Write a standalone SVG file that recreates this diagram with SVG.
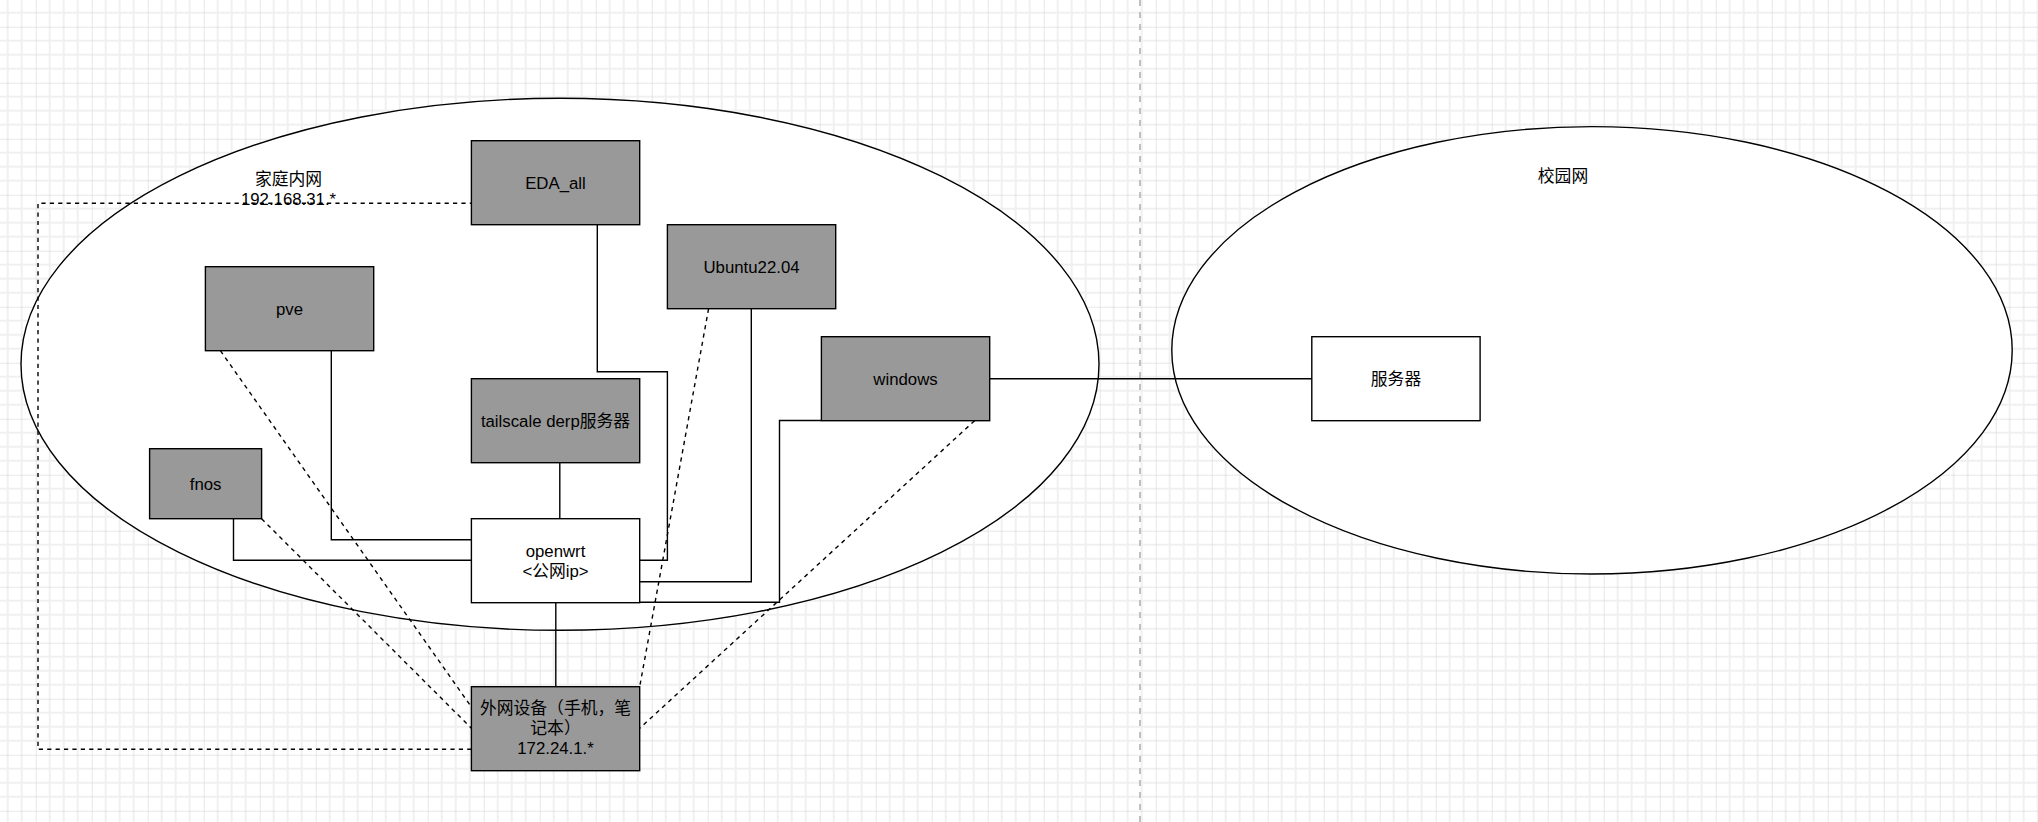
<svg xmlns="http://www.w3.org/2000/svg" width="2038" height="822" viewBox="0 0 2038 822">
  <defs>
    <pattern id="grid" patternUnits="userSpaceOnUse" x="35.7" y="26.7" width="56" height="56">
      <path d="M14 0V56M28 0V56M42 0V56M0 14H56M0 28H56M0 42H56" stroke="#f0f0f0" stroke-width="2" fill="none"/>
      <path d="M0 0V56M0 0H56" stroke="#d0d0d0" stroke-width="1" fill="none"/>
    </pattern>
    <style>
      .net { fill: #ffffff; stroke: #000000; stroke-width: 1.4; }
      .box { fill: #999999; stroke: #000000; stroke-width: 1.4; }
      .wbox { fill: #ffffff; stroke: #000000; stroke-width: 1.4; }
      .edge { fill: none; stroke: #000000; stroke-width: 1.4; }
      .dash { fill: none; stroke: #000000; stroke-width: 1.4; stroke-dasharray: 4.2 4.2; }
      .sep { fill: none; stroke: #c0c0c0; stroke-width: 2; stroke-dasharray: 6 6; }
      text { font-family: "Liberation Sans", Arial, "Noto Sans CJK SC", sans-serif; font-size: 16.8px; fill: #000000; text-anchor: middle; }
    </style>
  </defs>
  <rect x="0" y="0" width="2038" height="822" fill="#ffffff"/>
  <rect x="0" y="0" width="2038" height="822" fill="url(#grid)"/>
  <line class="sep" x1="1140" y1="0" x2="1140" y2="822"/>

  <g id="home-net">
    <ellipse class="net" cx="560" cy="364.3" rx="539" ry="266"/>
    <text x="288.5" y="185.3">家庭内网</text>
    <text x="288.5" y="205.3">192.168.31.*</text>
  </g>
  <g id="campus-net">
    <ellipse class="net" cx="1592" cy="350.3" rx="420.2" ry="223.7"/>
    <text x="1563" y="182">校园网</text>
  </g>

  <g id="connectors">
    <path class="edge" d="M597.3 224.7V371.7H667.4V560.3H639.7"/>
    <path class="edge" d="M751.3 308.7V581.7H639.7"/>
    <path class="edge" d="M821.4 420.5H779.5V602.3H639.7"/>
    <path class="edge" d="M989.7 378.7H1311.8"/>
    <path class="edge" d="M331.3 350.7V539.7H471.4"/>
    <path class="edge" d="M233.5 518.7V560.3H471.4"/>
    <path class="edge" d="M559.8 462.7V518.7"/>
    <path class="edge" d="M555.8 602.7V686.7"/>
    <path class="dash" d="M471.4 749.3H38V203.3H471.4"/>
    <path class="dash" d="M220.4 350.7L471.4 707"/>
    <path class="dash" d="M261.6 518.7L471.4 728.3"/>
    <path class="dash" d="M708.6 308.7L639.7 686.7"/>
    <path class="dash" d="M974.6 420.7L639.7 728.3"/>
  </g>

  <g id="eda-all">
    <rect class="box" x="471.4" y="140.7" width="168.3" height="84"/>
    <text x="555.5" y="188.7">EDA_all</text>
  </g>
  <g id="ubuntu">
    <rect class="box" x="667.4" y="224.7" width="168.3" height="84"/>
    <text x="751.5" y="272.7">Ubuntu22.04</text>
  </g>
  <g id="windows">
    <rect class="box" x="821.4" y="336.7" width="168.3" height="84"/>
    <text x="905.5" y="384.7">windows</text>
  </g>
  <g id="pve">
    <rect class="box" x="205.4" y="266.7" width="168.3" height="84"/>
    <text x="289.5" y="314.7">pve</text>
  </g>
  <g id="tailscale">
    <rect class="box" x="471.4" y="378.7" width="168.3" height="84"/>
    <text x="555.5" y="426.7">tailscale derp服务器</text>
  </g>
  <g id="fnos">
    <rect class="box" x="149.6" y="448.7" width="112" height="70"/>
    <text x="205.6" y="489.7">fnos</text>
  </g>
  <g id="openwrt">
    <rect class="wbox" x="471.4" y="518.7" width="168.3" height="84"/>
    <text x="555.5" y="557">openwrt</text>
    <text x="555.5" y="577">&lt;公网ip&gt;</text>
  </g>
  <g id="external-device">
    <rect class="box" x="471.4" y="686.7" width="168.3" height="84"/>
    <text x="555.5" y="714.3">外网设备（手机，笔</text>
    <text x="555.5" y="734.3">记本）</text>
    <text x="555.5" y="754.3">172.24.1.*</text>
  </g>
  <g id="server">
    <rect class="wbox" x="1311.8" y="336.7" width="168.3" height="84"/>
    <text x="1396" y="384.7">服务器</text>
  </g>
</svg>
